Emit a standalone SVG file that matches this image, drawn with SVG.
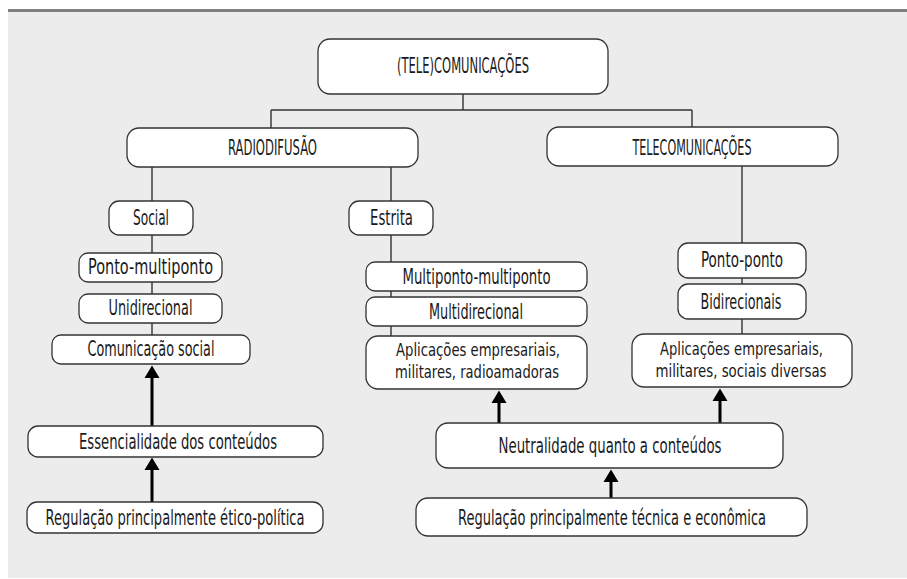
<svg xmlns="http://www.w3.org/2000/svg" width="907" height="579" viewBox="0 0 907 579">
<defs>
<style>
.box{fill:#fff;stroke:#333;stroke-width:1.3}
.t{font-family:"Liberation Sans Narrow","DejaVu Sans Condensed","Liberation Sans",Arial,sans-serif;font-size:20.5px;fill:#1a1a1a;text-anchor:middle}
.t2{font-size:18px}
.c{fill:none;stroke:#333;stroke-width:1.4}
.a{fill:none;stroke:#000;stroke-width:3}
</style>
<marker id="ah" markerUnits="userSpaceOnUse" markerWidth="13" markerHeight="16" refX="1" refY="8" orient="auto">
<path d="M0,0.5 L12.5,8 L0,15.5 z" fill="#000"/>
</marker>
</defs>
<rect x="0" y="0" width="907" height="579" fill="#fff"/>
<rect x="8" y="12" width="899" height="566" fill="#ececec"/>
<rect x="8" y="9" width="899" height="3" fill="#7f7f7f"/>

<g id="connectors">
<path class="c" d="M463,94 V110 M271,110 H692 M271,110 V128 M692,110 V127"/>
<path class="c" d="M152,167 V201 M152,235 V253 M152,282 V294 M152,323 V335"/>
<path class="c" d="M391,167 V201 M391,235 V262 M391,291 V297 M391,326 V336"/>
<path class="c" d="M742,166 V243 M742,278 V284 M742,319 V334"/>
<path class="a" d="M152,426 V377" marker-end="url(#ah)"/>
<path class="a" d="M152,502 V469" marker-end="url(#ah)"/>
<path class="a" d="M499,423 V402" marker-end="url(#ah)"/>
<path class="a" d="M720,423 V400" marker-end="url(#ah)"/>
<path class="a" d="M611,498 V481" marker-end="url(#ah)"/>
</g>

<g id="n-telecomunicacoes-root"><rect class="box" x="318" y="39" width="290" height="55" rx="12"/><text class="t" x="463" y="73" textLength="132" lengthAdjust="spacingAndGlyphs">(TELE)COMUNICAÇÕES</text></g>
<g id="n-radiodifusao"><rect class="box" x="127" y="128" width="291" height="39" rx="12"/><text class="t" x="272.5" y="155" textLength="89" lengthAdjust="spacingAndGlyphs">RADIODIFUSÃO</text></g>
<g id="n-telecomunicacoes"><rect class="box" x="547" y="127" width="291" height="39" rx="12"/><text class="t" x="692" y="155" textLength="119" lengthAdjust="spacingAndGlyphs">TELECOMUNICAÇÕES</text></g>

<g id="n-social"><rect class="box" x="109" y="201" width="84" height="34" rx="10"/><text class="t" x="151" y="224.5" textLength="36" lengthAdjust="spacingAndGlyphs">Social</text></g>
<g id="n-ponto-multiponto"><rect class="box" x="79" y="253" width="143" height="29" rx="9"/><text class="t" x="150.5" y="274" textLength="125" lengthAdjust="spacingAndGlyphs">Ponto-multiponto</text></g>
<g id="n-unidirecional"><rect class="box" x="79" y="294" width="143" height="29" rx="9"/><text class="t" x="150.5" y="315" textLength="84" lengthAdjust="spacingAndGlyphs">Unidirecional</text></g>
<g id="n-comunicacao-social"><rect class="box" x="52" y="335" width="198" height="29" rx="9"/><text class="t" x="151" y="356" textLength="127" lengthAdjust="spacingAndGlyphs">Comunicação social</text></g>

<g id="n-estrita"><rect class="box" x="349" y="201" width="84" height="34" rx="10"/><text class="t" x="391.5" y="224.5" textLength="43" lengthAdjust="spacingAndGlyphs">Estrita</text></g>
<g id="n-multiponto-multiponto"><rect class="box" x="366" y="262" width="221" height="29" rx="9"/><text class="t" x="476.5" y="284" textLength="148" lengthAdjust="spacingAndGlyphs">Multiponto-multiponto</text></g>
<g id="n-multidirecional"><rect class="box" x="366" y="297" width="221" height="29" rx="9"/><text class="t" x="476" y="319" textLength="94" lengthAdjust="spacingAndGlyphs">Multidirecional</text></g>
<g id="n-aplicacoes-radio"><rect class="box" x="366" y="336" width="221" height="53" rx="12"/><text class="t t2" x="478" y="356" textLength="164" lengthAdjust="spacingAndGlyphs">Aplicações empresariais,</text><text class="t t2" x="477" y="377.5" textLength="164" lengthAdjust="spacingAndGlyphs">militares, radioamadoras</text></g>

<g id="n-ponto-ponto"><rect class="box" x="678" y="243" width="128" height="35" rx="10"/><text class="t" x="742" y="267" textLength="82" lengthAdjust="spacingAndGlyphs">Ponto-ponto</text></g>
<g id="n-bidirecionais"><rect class="box" x="678" y="284" width="128" height="35" rx="10"/><text class="t" x="741" y="309" textLength="81" lengthAdjust="spacingAndGlyphs">Bidirecionais</text></g>
<g id="n-aplicacoes-tele"><rect class="box" x="632" y="334" width="220" height="53" rx="12"/><text class="t t2" x="741.5" y="355" textLength="163" lengthAdjust="spacingAndGlyphs">Aplicações empresariais,</text><text class="t t2" x="741" y="376.5" textLength="171" lengthAdjust="spacingAndGlyphs">militares, sociais diversas</text></g>

<g id="n-essencialidade"><rect class="box" x="28" y="426" width="295" height="31" rx="10"/><text class="t" x="178" y="448.5" textLength="198" lengthAdjust="spacingAndGlyphs">Essencialidade dos conteúdos</text></g>
<g id="n-regulacao-etico"><rect class="box" x="27" y="502" width="296" height="31" rx="10"/><text class="t" x="175" y="525" textLength="259" lengthAdjust="spacingAndGlyphs">Regulação principalmente ético-política</text></g>
<g id="n-neutralidade"><rect class="box" x="436" y="423" width="347" height="45" rx="12"/><text class="t" x="610" y="453" textLength="223" lengthAdjust="spacingAndGlyphs">Neutralidade quanto a conteúdos</text></g>
<g id="n-regulacao-tecnica"><rect class="box" x="416" y="498" width="391" height="38" rx="12"/><text class="t" x="612" y="525" textLength="308" lengthAdjust="spacingAndGlyphs">Regulação principalmente técnica e econômica</text></g>
</svg>
